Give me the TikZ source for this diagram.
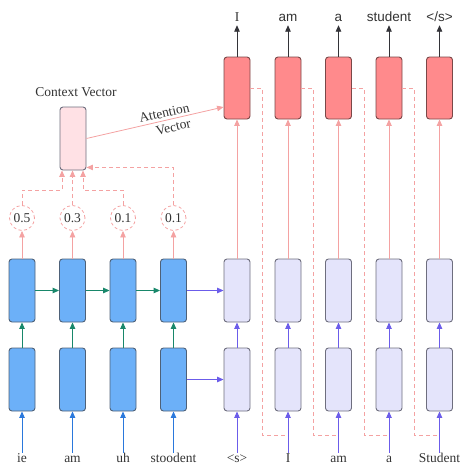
\documentclass[tikz,border=0pt]{standalone}
\usepackage{fontspec}
\setmainfont{Liberation Serif}
\newfontfamily\sansf{Liberation Sans}
\usetikzlibrary{arrows.meta}
\definecolor{encfill}{HTML}{6CB0F8}
\definecolor{encdraw}{HTML}{4E6178}
\definecolor{decfill}{HTML}{E4E4FB}
\definecolor{decdraw}{HTML}{6E6E7E}
\definecolor{redfill}{HTML}{FF8A8C}
\definecolor{reddraw}{HTML}{7A4848}
\definecolor{ctxfill}{HTML}{FFE1E5}
\definecolor{redln}{HTML}{F4A2A2}
\definecolor{greenln}{HTML}{18876A}
\definecolor{purpleln}{HTML}{6B5CEA}
\definecolor{blueln}{HTML}{2A78DC}
\definecolor{darkln}{HTML}{333338}
\definecolor{txt}{HTML}{333333}
\tikzset{
  cell/.style={draw, line width=0.9pt, rounded corners=3pt, minimum width=26pt, minimum height=63pt, inner sep=0pt},
  enc/.style={cell, fill=encfill, draw=encdraw},
  dec/.style={cell, fill=decfill, draw=decdraw},
  outc/.style={cell, fill=redfill, draw=reddraw, minimum height=62pt},
  ctxc/.style={cell, fill=ctxfill, draw=decdraw},
  lbl/.style={font=\fontsize{13.5}{15}\selectfont, text=txt, inner sep=1pt},
  slbl/.style={lbl, font=\sansf\fontsize{13.5}{15}\selectfont},
  wt/.style={circle, draw=redln, dash pattern=on 3pt off 2.5pt, line width=0.8pt, minimum size=25pt, inner sep=0pt, font=\fontsize{13.5}{15}\selectfont, text=txt},
  tip/.style={-{Triangle[length=6.5pt,width=5.5pt]}},
  redar/.style={tip, draw=redln, line width=0.8pt},
  redda/.style={redar, dash pattern=on 4pt off 3pt},
  rdash/.style={draw=redln, line width=0.8pt, dash pattern=on 4pt off 3pt},
  grar/.style={tip, draw=greenln, line width=0.9pt},
  puar/.style={tip, draw=purpleln, line width=0.9pt},
  blar/.style={tip, draw=blueln, line width=0.9pt},
  dkar/.style={tip, draw=darkln, line width=0.9pt},
}
\begin{document}
\begin{tikzpicture}[x=1pt,y=-1pt]
\useasboundingbox (0,0) rectangle (459,466);
% encoder
\foreach \i/\x/\w/\t in {1/22/0.5/ie, 2/72.5/0.3/am, 3/123/0.1/uh, 4/173.5/0.1/stoodent}{
  \node[enc] (eu\i) at (\x,290.5) {};
  \node[enc] (el\i) at (\x,379.5) {};
  \node[wt] (c\i) at (\x,218) {\w};
  \node[lbl, text height=8pt, text depth=2pt] (in\i) at (\x,459) {\t};
}
% decoder
\foreach \i/\x/\t in {1/237/{<s>}, 2/288/I, 3/338.5/am, 4/389/a, 5/439.5/Student}{
  \node[dec] (du\i) at (\x,290.5) {};
  \node[dec] (dl\i) at (\x,379.5) {};
  \node[outc] (r\i) at (\x,88) {};
  \node[lbl, text height=8pt, text depth=2pt] (dn\i) at (\x,459) {\t};
  \coordinate (j\i) at (\x,435);
}
\node[lbl, text height=9pt, text depth=3pt] (o1) at (237,18) {I};
\node[slbl, text height=9pt, text depth=3pt] (o2) at (288,18) {am};
\node[slbl, text height=9pt, text depth=3pt] (o3) at (338.5,18) {a};
\node[slbl, text height=9pt, text depth=3pt] (o4) at (389,18) {student};
\node[slbl, text height=9pt, text depth=3pt] (o5) at (439.5,18) {</s>};
% context
\node[ctxc] (ctx) at (73,138.5) {};
\node[lbl] (ctxl) at (76,92) {Context Vector};

% encoder connectors
\foreach \i in {1,2,3,4}{
  \draw[blar] (in\i) -- (el\i);
  \draw[grar] (el\i) -- (eu\i);
  \draw[redar] (eu\i) -- (c\i);
}
\draw[grar] (eu1) -- (eu2);
\draw[grar] (eu2) -- (eu3);
\draw[grar] (eu3) -- (eu4);
\draw[puar] (eu4) -- (du1);
\draw[puar] (el4) -- (dl1);
% decoder connectors
\foreach \i in {1,...,5}{
  \draw[puar] (dn\i) -- (dl\i);
  \draw[puar] (dl\i) -- (du\i);
  \draw[redar] (du\i) -- (r\i);
  \draw[dkar] (r\i.north) -- (o\i.south);
}
\foreach \i/\n in {1/2,2/3,3/4,4/5}{
  \draw[rdash] (r\i.east) -- ++(12,0) |- (j\n);
}
% weights to context
\draw[redda] (c1.north) |- ([xshift=-11pt,yshift=-20pt]ctx.south) -- ([xshift=-11pt]ctx.south);
\draw[redda] (c2.north) -- (c2.north |- ctx.south);
\draw[redda] (c3.north) |- ([xshift=10pt,yshift=-20pt]ctx.south) -- ([xshift=10pt]ctx.south);
\draw[redda] (c4.north) |- ([yshift=3pt]ctx.south east);
% attention
\draw[redar] (ctx.east) -- node[pos=0.58, sloped, above=2.5pt, lbl, inner sep=0pt] (attA) {Attention}
  node[pos=0.62, sloped, below=3.5pt, lbl, inner sep=0pt] (attV) {Vector} ([yshift=-19pt]r1.west);
\end{tikzpicture}
\end{document}
